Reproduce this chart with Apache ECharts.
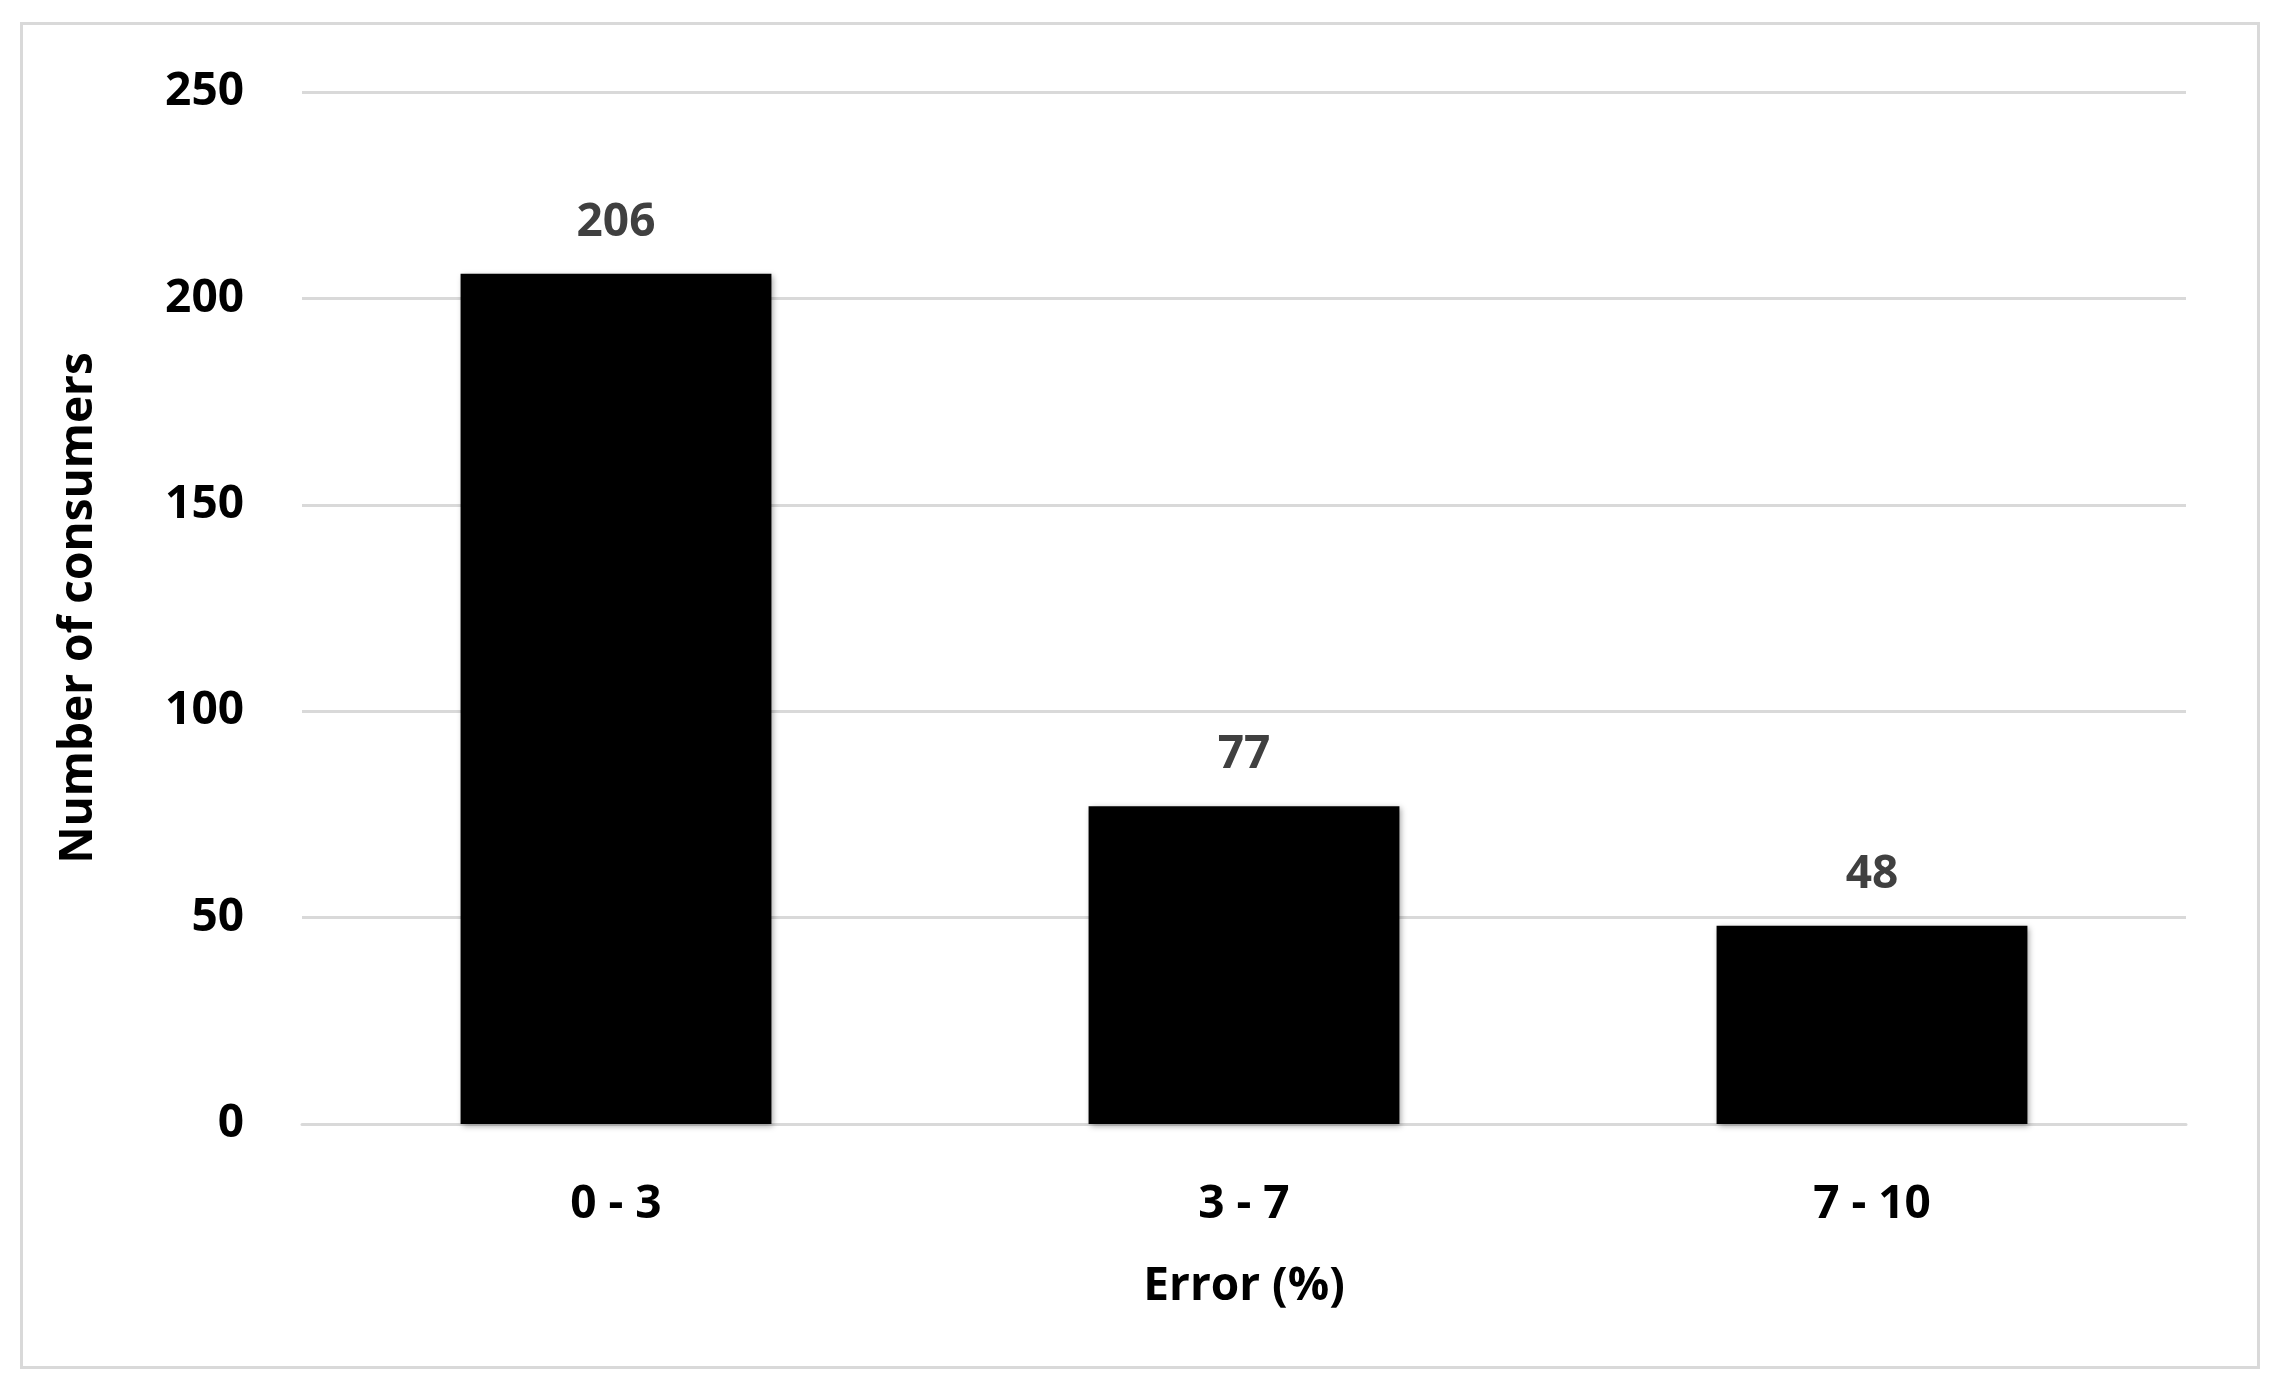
<!DOCTYPE html>
<html>
<head>
<meta charset="utf-8">
<script src="https://cdn.jsdelivr.net/npm/echarts@6/dist/echarts.min.js"></script>
<style>
html,body{margin:0;padding:0;background:#fff;}
#frame{position:absolute;left:20px;top:22px;width:2234px;height:1341px;border:3px solid #d9d9d9;}
#chart{position:absolute;left:0;top:0;width:2278px;height:1389px;}
</style>
</head>
<body>
<div id="frame"></div>
<div id="chart"></div>
<script>
var categories = ['0 - 3', '3 - 7', '7 - 10'];
var consumers = [206, 77, 48];
var yTicks = [0, 50, 100, 150, 200, 250];

var myChart = echarts.init(document.getElementById('chart'));
var option = {
	textStyle: {fontFamily: 'Open Sans', fontWeight: 'bold'},
	grid: {left: 302, right: 92, top: 92, bottom: 265},
	xAxis: {
		type: 'category',
		data: categories,
		name: 'Error (%)',
		nameLocation: 'middle',
		nameGap: 140,
		nameTextStyle: {fontSize: 46, fontWeight: 'bold', color: '#000'},
		axisLine: {lineStyle: {color: '#d9d9d9', width: 3}},
		axisTick: {show: false},
		axisLabel: {fontSize: 46, fontWeight: 'bold', color: '#000', margin: 58}
	},
	yAxis: {
		type: 'value',
		min: yTicks[0],
		max: yTicks[yTicks.length - 1],
		interval: 50,
		name: 'Number of consumers',
		nameLocation: 'middle',
		nameGap: 200,
		nameTextStyle: {fontSize: 46, fontWeight: 'bold', color: '#000'},
		axisLine: {show: false},
		axisTick: {show: false},
		splitLine: {lineStyle: {color: '#d9d9d9', width: 3}},
		axisLabel: {fontSize: 46, fontWeight: 'bold', color: '#000', margin: 58}
	},
	series: [{
		type: 'bar',
		data: consumers,
		barWidth: '49.5%',
		itemStyle: {color: '#000', shadowColor: 'rgba(0,0,0,0.35)', shadowBlur: 6, shadowOffsetX: 2, shadowOffsetY: 2},
		label: {show: true, position: 'top', distance: 28, fontSize: 46, fontWeight: 'bold', color: '#404040'}
	}]
};
myChart.setOption(option);
</script>
</body>
</html>
